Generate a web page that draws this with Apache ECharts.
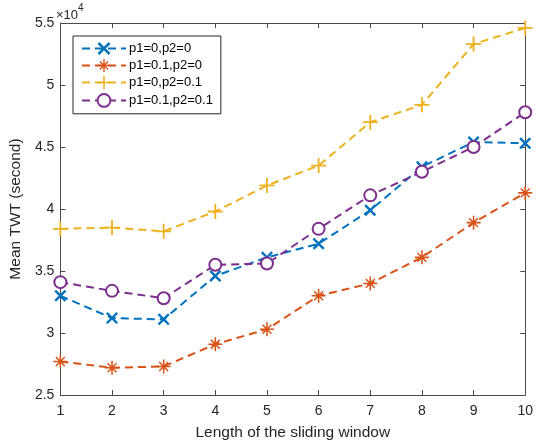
<!DOCTYPE html>
<html>
<head>
<meta charset="utf-8">
<script src="https://cdn.jsdelivr.net/npm/echarts@6/dist/echarts.min.js"></script>
<style>
  html, body { margin: 0; padding: 0; background: #fff; }
  #chart { width: 536px; height: 446px; }
</style>
</head>
<body>
<div id="chart"></div>
<script>
// Sliding window length on the x axis
const windowLengths = [1, 2, 3, 4, 5, 6, 7, 8, 9, 10];

// Mean total weighted tardiness (seconds) for each parameter setting
const seriesNames = ['p1=0,p2=0', 'p1=0.1,p2=0', 'p1=0,p2=0.1', 'p1=0.1,p2=0.1'];
const twtP1_0_P2_0     = [33000, 31200, 31100, 34600, 36100, 37200, 39900, 43400, 45400, 45300];
const twtP1_01_P2_0    = [27700, 27200, 27300, 29100, 30300, 33000, 34000, 36100, 38900, 41300];
const twtP1_0_P2_01    = [38400, 38500, 38200, 39800, 41900, 43500, 47000, 48400, 53300, 54600];
const twtP1_01_P2_01   = [34100, 33400, 32800, 35500, 35600, 38400, 41100, 43000, 45000, 47800];

const yTicks = [25000, 30000, 35000, 40000, 45000, 50000, 55000];

const colors = ['#0072BD', '#D95319', '#EDB120', '#7E2F8E'];

// Marker outlines drawn as filled paths
const crossPath = 'path://M2.8,0 L10,7.2 L17.2,0 L20,2.8 L12.8,10 L20,17.2 L17.2,20 L10,12.8 L2.8,20 L0,17.2 L7.2,10 L0,2.8 Z';
const plusPath = 'path://M8.8,0 H11.2 V8.8 H20 V11.2 H11.2 V20 H8.8 V11.2 H0 V8.8 H8.8 Z';
const starPath = 'path://M8.9,0 H11.1 V8.9 H20 V11.1 H11.1 V20 H8.9 V11.1 H0 V8.9 H8.9 Z ' +
                 'M4.4,2.9 L10,8.5 L15.6,2.9 L17.1,4.4 L11.5,10 L17.1,15.6 L15.6,17.1 L10,11.5 L4.4,17.1 L2.9,15.6 L8.5,10 L2.9,4.4 Z';

const markers = [
  { symbol: crossPath, size: 12 },
  { symbol: starPath, size: 14 },
  { symbol: plusPath, size: 15 },
  { symbol: 'emptyCircle', size: 12 }
];
const values = [twtP1_0_P2_0, twtP1_01_P2_0, twtP1_0_P2_01, twtP1_01_P2_01];

const axisColor = '#4a4a4a';
const font = 'Liberation Sans, Arial, Helvetica, sans-serif';

const series = seriesNames.map((name, i) => ({
  name: name,
  type: 'line',
  xAxisIndex: 0,
  yAxisIndex: 0,
  data: windowLengths.map((x, j) => [x, values[i][j]]),
  symbol: markers[i].symbol,
  symbolSize: markers[i].size,
  showAllSymbol: true,
  lineStyle: { color: colors[i], width: 2, type: [8, 5] },
  itemStyle: markers[i].symbol === 'emptyCircle'
    ? { color: colors[i], borderColor: colors[i], borderWidth: 2 }
    : { color: colors[i], borderWidth: 0 },
  emphasis: { disabled: true },
  animation: false,
  z: 3 + i
}));

const chart = echarts.init(document.getElementById('chart'), null, { renderer: 'canvas' });

chart.setOption({
  backgroundColor: '#fff',
  animation: false,
  textStyle: { fontFamily: font },
  grid: { left: 54, right: 8, top: 23, bottom: 51, containLabel: false },
  legend: {
    orient: 'vertical',
    left: 73,
    top: 36,
    padding: [6, 8, 6, 8],
    itemGap: 4,
    itemWidth: 44,
    itemHeight: 16,
    backgroundColor: '#fff',
    borderColor: '#262626',
    borderWidth: 1,
    textStyle: { fontFamily: font, fontSize: 13, color: '#000', padding: [0, 0, 0, -2] },
    data: seriesNames
  },
  xAxis: [
    {
      type: 'value',
      min: 1, max: 10, interval: 1,
      name: 'Length of the sliding window',
      nameLocation: 'middle',
      nameGap: 30,
      nameTextStyle: { fontFamily: font, fontSize: 15.5, color: '#262626' },
      axisLine: { onZero: false, lineStyle: { color: axisColor, width: 1 } },
      axisTick: { inside: true, length: 5, lineStyle: { color: axisColor } },
      axisLabel: { fontFamily: font, fontSize: 14, color: '#262626', margin: 9 },
      splitLine: { show: false }
    },
    {
      type: 'value',
      position: 'top',
      min: 1, max: 10, interval: 1,
      axisLine: { onZero: false, lineStyle: { color: axisColor, width: 1 } },
      axisTick: { inside: true, length: 5, lineStyle: { color: axisColor } },
      axisLabel: { show: false },
      splitLine: { show: false }
    }
  ],
  yAxis: [
    {
      type: 'value',
      min: 25000, max: 55000, interval: 5000,
      name: 'Mean TWT (second)',
      nameLocation: 'middle',
      nameGap: 30,
      nameTextStyle: { fontFamily: font, fontSize: 15.5, color: '#262626' },
      axisLine: { onZero: false, lineStyle: { color: axisColor, width: 1 } },
      axisTick: { inside: true, length: 5, lineStyle: { color: axisColor } },
      axisLabel: {
        fontFamily: font, fontSize: 14, color: '#262626', margin: 6,
        formatter: v => yTicks.includes(v) ? String(v / 10000) : ''
      },
      splitLine: { show: false }
    },
    {
      type: 'value',
      position: 'right',
      min: 25000, max: 55000, interval: 5000,
      axisLine: { onZero: false, lineStyle: { color: axisColor, width: 1 } },
      axisTick: { inside: true, length: 5, lineStyle: { color: axisColor } },
      axisLabel: { show: false },
      splitLine: { show: false }
    }
  ],
  graphic: [
    {
      type: 'text',
      left: 56,
      top: 3,
      style: {
        text: '{m|\u00d710}{e|4}',
        rich: {
          m: { fontFamily: font, fontSize: 13, fill: '#262626', padding: [6, 0, 0, 0] },
          e: { fontFamily: font, fontSize: 10, fill: '#262626', verticalAlign: 'top' }
        }
      }
    }
  ],
  series: series
});
</script>
</body>
</html>
